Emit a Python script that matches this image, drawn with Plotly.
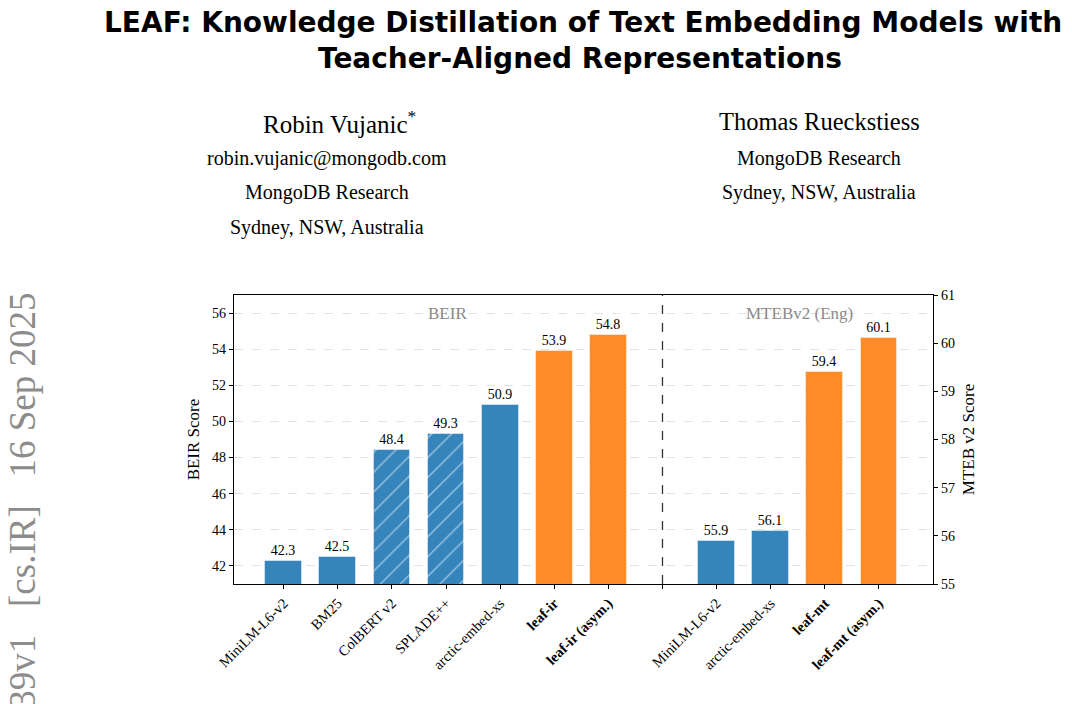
import plotly.graph_objects as go

# ---------------- data ----------------
beir_models = ["MiniLM-L6-v2", "BM25", "ColBERT v2", "SPLADE++", "arctic-embed-xs", "leaf-ir", "leaf-ir (asym.)"]
beir_scores = [42.3, 42.5, 48.4, 49.3, 50.9, 53.9, 54.8]
beir_kind = ["base", "base", "hatch", "hatch", "base", "leaf", "leaf"]

mteb_models = ["MiniLM-L6-v2", "arctic-embed-xs", "leaf-mt", "leaf-mt (asym.)"]
mteb_scores = [55.9, 56.1, 59.4, 60.1]
mteb_kind = ["base", "base", "leaf", "leaf"]

beir_ticks = [42, 44, 46, 48, 50, 52, 54, 56]
mteb_ticks = [55, 56, 57, 58, 59, 60, 61]

# ---------------- style ----------------
W, H = 1072, 704
L, R, T, B = 234, 933, 295, 584
BLUE = "#3585bc"
ORANGE = "#ff8c26"
SERIF = "Liberation Serif"
SANS = "DejaVu Sans"

def px(x):
    return (x - L) / (R - L)

def py(y):
    return (B - y) / (B - T)

beir_x = list(range(len(beir_models)))
sep_x = len(beir_models)
mteb_x = [sep_x + 1 + i for i in range(len(mteb_models))]

def colors(kinds):
    return [ORANGE if k == "leaf" else BLUE for k in kinds]

def shapes(kinds):
    return ["/" if k == "hatch" else "" for k in kinds]

def label(name, kind):
    return f"<b>{name}</b>" if kind == "leaf" else name

fig = go.Figure()
for xs, ys, kinds, yaxis in [(beir_x, beir_scores, beir_kind, "y"), (mteb_x, mteb_scores, mteb_kind, "y2")]:
    fig.add_trace(go.Bar(
        x=xs, y=ys, yaxis=yaxis, width=0.68,
        marker=dict(
            color=colors(kinds),
            line=dict(color="rgba(255,255,255,0.45)", width=1),
            pattern=dict(shape=shapes(kinds), fgcolor="white", bgcolor=colors(kinds), size=14, solidity=0.1),
        ),
        text=[f"{v:.1f}" for v in ys], textposition="outside", cliponaxis=False,
        textfont=dict(family=SERIF, size=14, color="black"),
        showlegend=False, hoverinfo="skip",
    ))

tickvals = beir_x + [sep_x] + mteb_x
ticktext = [label(n, k) for n, k in zip(beir_models, beir_kind)] + [""] + [label(n, k) for n, k in zip(mteb_models, mteb_kind)]

fig.add_shape(type="line", x0=sep_x, x1=sep_x, y0=0, y1=1, xref="x", yref="paper",
              line=dict(color="#333", width=1.3, dash="dash"))

annotations = [
    dict(text="BEIR", x=px(447), y=py(313), font=dict(family=SERIF, size=17, color="#8a8a8a")),
    dict(text="MTEBv2 (Eng)", x=px(799), y=py(313), font=dict(family=SERIF, size=17, color="#8a8a8a")),
    # paper header
    dict(text="<b>LEAF: Knowledge Distillation of Text Embedding Models with</b>", x=px(583), y=py(22),
         font=dict(family=SANS, size=28, color="black")),
    dict(text="<b>Teacher-Aligned Representations</b>", x=px(580), y=py(59),
         font=dict(family=SANS, size=28, color="black")),
    dict(text="Robin Vujanic<sup>*</sup>", x=px(339), y=py(122), font=dict(family=SERIF, size=25, color="black")),
    dict(text="robin.vujanic@mongodb.com", x=px(327), y=py(158), font=dict(family=SERIF, size=20, color="black")),
    dict(text="MongoDB Research", x=px(327), y=py(192), font=dict(family=SERIF, size=20, color="black")),
    dict(text="Sydney, NSW, Australia", x=px(327), y=py(227), font=dict(family=SERIF, size=20, color="black")),
    dict(text="Thomas Rueckstiess", x=px(819), y=py(122), font=dict(family=SERIF, size=24.5, color="black")),
    dict(text="MongoDB Research", x=px(819), y=py(158), font=dict(family=SERIF, size=20, color="black")),
    dict(text="Sydney, NSW, Australia", x=px(819), y=py(192), font=dict(family=SERIF, size=20, color="black")),
]
for a in annotations:
    fig.add_annotation(xref="paper", yref="paper", showarrow=False, xanchor="center", yanchor="middle", **a)

fig.add_annotation(text="arXiv:2509.12539v1\u00a0\u00a0\u00a0[cs.IR]\u00a0\u00a0\u00a016 Sep 2025", xref="paper", yref="paper",
                   x=px(22), y=py(290), xanchor="center", yanchor="top", textangle=-90, showarrow=False,
                   font=dict(family=SERIF, size=37, color="#8c8c8c"))

fig.update_layout(
    width=W, height=H, margin=dict(l=L, r=W - R, t=T, b=H - B),
    paper_bgcolor="white", plot_bgcolor="white", bargap=0,
    font=dict(family=SERIF, size=13, color="black"),
    xaxis=dict(range=[-0.92, 12.0], tickvals=tickvals, ticktext=ticktext, tickangle=-45,
               ticks="outside", ticklen=4, tickcolor="black", showgrid=False, zeroline=False,
               showline=True, linecolor="black", linewidth=1.3, mirror=True,
               tickfont=dict(family=SERIF, size=14.5)),
    yaxis=dict(range=[41, 57], tickvals=beir_ticks, ticks="outside", ticklen=4, tickcolor="black",
               showgrid=True, gridcolor="#e3e3e3", griddash="dash", gridwidth=1, zeroline=False,
               showline=True, linecolor="black", linewidth=1.3, mirror=True,
               title=dict(text="BEIR Score", font=dict(family=SERIF, size=17), standoff=8),
               tickfont=dict(family=SERIF, size=14)),
    yaxis2=dict(range=[55, 61], tickvals=mteb_ticks, overlaying="y", side="right", ticks="outside",
                ticklen=4, tickcolor="black", showgrid=False, zeroline=False,
                showline=True, linecolor="black", linewidth=1.3,
                title=dict(text="MTEB v2 Score", font=dict(family=SERIF, size=17), standoff=8),
                tickfont=dict(family=SERIF, size=14)),
)

fig.write_html("out.html")
